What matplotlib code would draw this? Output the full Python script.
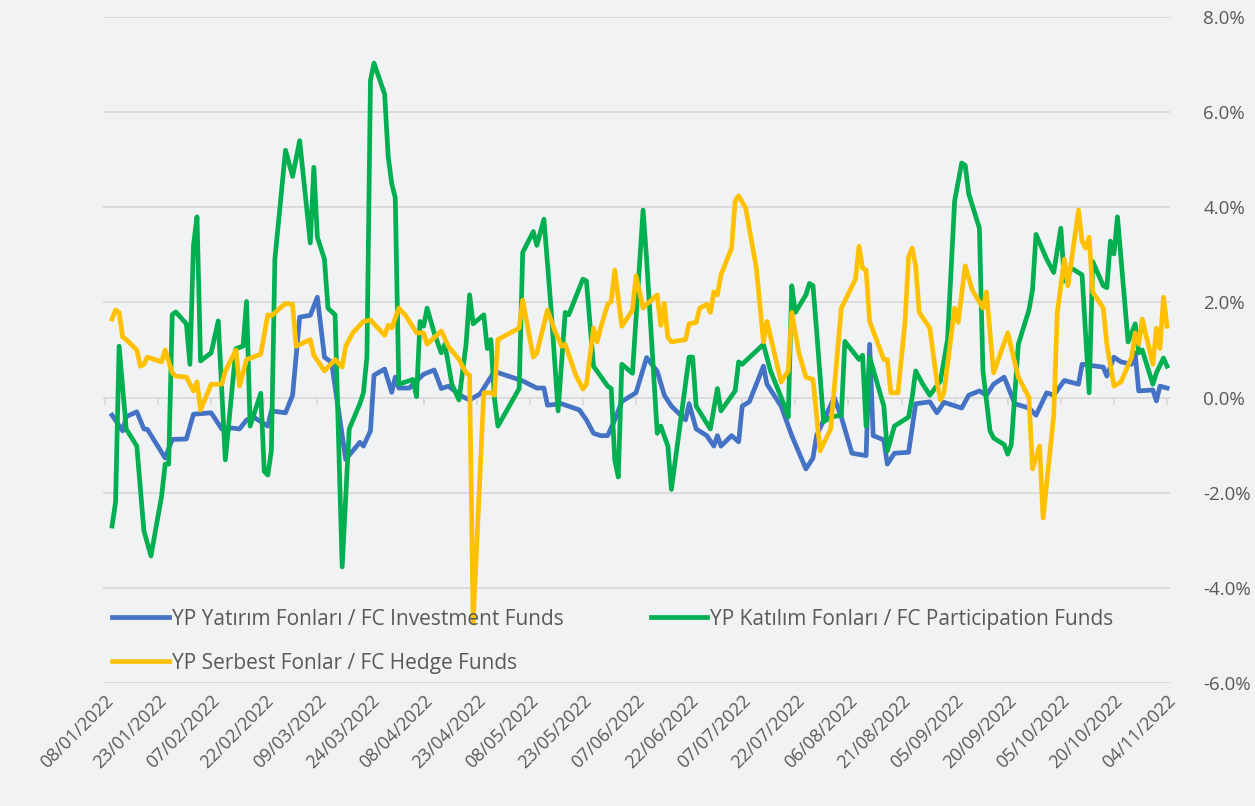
import pandas as pd
import matplotlib.pyplot as plt
import matplotlib.dates as mdates
from matplotlib.ticker import FuncFormatter, NullFormatter

plt.rcParams["font.family"] = ["Open Sans", "DejaVu Sans"]

# -------------------- Veri (günlük getiri, %) --------------------
yatirim_tarih = ["01-10", "01-13", "01-14", "01-17", "01-19", "01-20", "01-25", "01-27", "01-31",
                 "02-02", "02-07", "02-10", "02-13", "02-15", "02-17", "02-19", "02-23", "02-24",
                 "02-28", "03-02", "03-04", "03-07", "03-09", "03-11", "03-13", "03-17", "03-21",
                 "03-22", "03-24", "03-25", "03-28", "03-30", "03-31", "04-01", "04-04", "04-05",
                 "04-08", "04-11", "04-13", "04-15", "04-19", "04-21", "04-24", "04-28", "05-06",
                 "05-10", "05-12", "05-13", "05-17", "05-22", "05-24", "05-26", "05-28", "05-30",
                 "06-01", "06-03", "06-07", "06-10", "06-13", "06-15", "06-17", "06-21", "06-22",
                 "06-24", "06-27", "06-29", "06-30", "07-01", "07-04", "07-06", "07-07", "07-09",
                 "07-13", "07-14", "07-18", "07-21", "07-25", "07-27", "07-28", "08-02", "08-04",
                 "08-07", "08-11", "08-12", "08-13", "08-16", "08-17", "08-19", "08-23", "08-25",
                 "08-29", "08-31", "09-02", "09-07", "09-09", "09-12", "09-14", "09-16", "09-19",
                 "09-22", "09-26", "09-28", "10-01", "10-03", "10-06", "10-10", "10-11", "10-17",
                 "10-18", "10-20", "10-22", "10-25", "10-26", "10-27", "10-31", "11-01", "11-02",
                 "11-04"]
yatirim = [-0.37, -0.70, -0.40, -0.30, -0.66, -0.67, -1.27, -0.88, -0.87,
           -0.35, -0.32, -0.66, -0.64, -0.66, -0.47, -0.41, -0.60, -0.28,
           -0.32, 0.05, 1.69, 1.73, 2.11, 0.85, 0.74, -1.30, -0.94,
           -1.02, -0.70, 0.47, 0.60, 0.11, 0.43, 0.20, 0.20, 0.28,
           0.49, 0.58, 0.19, 0.24, 0.02, -0.05, 0.08, 0.55, 0.35,
           0.20, 0.20, -0.16, -0.13, -0.26, -0.47, -0.75, -0.80, -0.80,
           -0.47, -0.08, 0.10, 0.84, 0.55, 0.05, -0.18, -0.47, -0.13,
           -0.66, -0.80, -1.02, -0.80, -1.02, -0.80, -0.93, -0.18, -0.09,
           0.66, 0.28, -0.18, -0.80, -1.50, -1.27, -0.80, 0.00, -0.41,
           -1.17, -1.22, 1.12, -0.80, -0.89, -1.40, -1.17, -1.15, -0.13,
           -0.09, -0.32, -0.10, -0.22, 0.05, 0.14, 0.05, 0.28, 0.43,
           -0.13, -0.22, -0.37, 0.10, 0.05, 0.36, 0.28, 0.70, 0.64,
           0.45, 0.85, 0.75, 0.70, 0.94, 0.14, 0.16, -0.07, 0.24,
           0.20]

katilim_tarih = ["01-10", "01-11", "01-12", "01-14", "01-17", "01-19", "01-21", "01-24", "01-25",
                 "01-26", "01-27", "01-28", "01-31", "02-01", "02-02", "02-03", "02-04", "02-07",
                 "02-09", "02-11", "02-14", "02-16", "02-17", "02-18", "02-21", "02-22", "02-23",
                 "02-24", "02-25", "02-28", "03-02", "03-04", "03-07", "03-08", "03-09", "03-11",
                 "03-12", "03-14", "03-16", "03-18", "03-21", "03-22", "03-23", "03-24", "03-25",
                 "03-28", "03-29", "03-30", "03-31", "04-01", "04-05", "04-06", "04-07", "04-08",
                 "04-09", "04-11", "04-13", "04-14", "04-16", "04-18", "04-20", "04-21", "04-22",
                 "04-25", "04-26", "04-27", "04-28", "04-29", "05-05", "05-06", "05-09", "05-10",
                 "05-12", "05-14", "05-16", "05-18", "05-19", "05-23", "05-24", "05-26", "05-30",
                 "05-31", "06-01", "06-02", "06-03", "06-06", "06-09", "06-10", "06-13", "06-14",
                 "06-16", "06-17", "06-22", "06-23", "06-24", "06-28", "06-30", "07-01", "07-05",
                 "07-06", "07-07", "07-13", "07-15", "07-19", "07-20", "07-21", "07-22", "07-25",
                 "07-26", "07-27", "07-28", "07-30", "08-01", "08-04", "08-05", "08-09", "08-10",
                 "08-11", "08-12", "08-16", "08-17", "08-19", "08-23", "08-24", "08-25", "08-27",
                 "08-29", "09-01", "09-03", "09-05", "09-07", "09-08", "09-09", "09-12", "09-13",
                 "09-15", "09-16", "09-19", "09-20", "09-21", "09-23", "09-26", "09-27", "09-28",
                 "10-01", "10-03", "10-05", "10-06", "10-08", "10-11", "10-13", "10-14", "10-17",
                 "10-18", "10-19", "10-20", "10-21", "10-24", "10-26", "10-27", "10-28", "10-31",
                 "11-01", "11-03", "11-04"]
katilim = [-2.70, -2.20, 1.08, -0.66, -1.02, -2.80, -3.33, -2.07, -1.40,
           -1.40, 1.74, 1.80, 1.55, 0.70, 3.20, 3.80, 0.77, 0.94,
           1.61, -1.31, 1.03, 1.08, 2.02, -0.60, 0.09, -1.55, -1.63,
           -1.12, 2.91, 5.20, 4.65, 5.40, 3.25, 4.84, 3.37, 2.91,
           1.88, 1.74, -3.56, -0.66, -0.13, 0.10, 0.85, 6.67, 7.03,
           6.38, 5.07, 4.50, 4.20, 0.28, 0.38, 0.02, 1.60, 1.50,
           1.88, 1.36, 0.94, 1.12, 0.28, -0.05, 1.12, 2.16, 1.55,
           1.74, 1.03, 1.22, 0.00, -0.60, 0.19, 3.05, 3.49, 3.20,
           3.75, 1.88, -0.28, 1.79, 1.74, 2.49, 2.45, 0.66, 0.24,
           0.19, -1.31, -1.67, 0.70, 0.51, 3.94, 2.91, -0.75, -0.60,
           -1.02, -1.93, 0.85, 0.85, -0.18, -0.66, 0.19, -0.28, 0.14,
           0.75, 0.70, 1.12, 0.56, -0.18, -0.41, 2.35, 1.79, 2.16,
           2.40, 2.35, 1.42, -0.51, -0.41, -0.37, 1.18, 0.80, 0.89,
           -0.60, 0.85, -0.18, -1.12, -0.60, -0.41, 0.00, 0.56, 0.28,
           0.05, 0.35, 1.22, 4.13, 4.93, 4.88, 4.28, 3.56, 0.56,
           -0.70, -0.85, -0.99, -1.19, -0.99, 1.12, 1.84, 2.26, 3.43,
           2.91, 2.63, 3.56, 2.45, 2.72, 2.58, 0.10, 2.86, 2.35,
           2.31, 3.29, 3.02, 3.80, 1.17, 1.55, 0.94, 1.00, 0.28,
           0.52, 0.83, 0.66]

serbest_tarih = ["01-10", "01-11", "01-12", "01-13", "01-14", "01-17", "01-18", "01-19", "01-20",
                 "01-24", "01-25", "01-27", "01-28", "01-31", "02-02", "02-03", "02-04", "02-07",
                 "02-10", "02-11", "02-14", "02-15", "02-17", "02-21", "02-23", "02-24", "02-28",
                 "03-02", "03-03", "03-07", "03-08", "03-11", "03-14", "03-16", "03-17", "03-19",
                 "03-22", "03-24", "03-28", "03-29", "03-30", "04-01", "04-03", "04-06", "04-08",
                 "04-09", "04-13", "04-15", "04-18", "04-20", "04-21", "04-22", "04-25", "04-27",
                 "04-28", "04-29", "05-05", "05-06", "05-09", "05-10", "05-13", "05-15", "05-17",
                 "05-18", "05-21", "05-23", "05-24", "05-26", "05-27", "05-28", "05-30", "05-31",
                 "06-01", "06-03", "06-06", "06-07", "06-09", "06-10", "06-13", "06-14", "06-15",
                 "06-16", "06-17", "06-21", "06-22", "06-24", "06-25", "06-27", "06-28", "06-29",
                 "06-30", "07-01", "07-04", "07-05", "07-06", "07-08", "07-11", "07-13", "07-14",
                 "07-18", "07-20", "07-21", "07-23", "07-25", "07-27", "07-29", "08-01", "08-04",
                 "08-08", "08-09", "08-10", "08-11", "08-12", "08-16", "08-17", "08-18", "08-20",
                 "08-22", "08-23", "08-24", "08-25", "08-26", "08-29", "08-31", "09-01", "09-02",
                 "09-03", "09-05", "09-06", "09-08", "09-10", "09-13", "09-14", "09-16", "09-20",
                 "09-23", "09-26", "09-27", "09-29", "09-30", "10-03", "10-04", "10-06", "10-07",
                 "10-10", "10-11", "10-12", "10-13", "10-14", "10-17", "10-18", "10-20", "10-22",
                 "10-25", "10-26", "10-27", "10-28", "10-31", "11-01", "11-02", "11-03", "11-04"]
serbest = [1.65, 1.84, 1.79, 1.27, 1.22, 1.00, 0.66, 0.70, 0.85,
           0.75, 1.00, 0.52, 0.45, 0.43, 0.14, 0.33, -0.26, 0.28,
           0.28, 0.56, 1.00, 0.24, 0.80, 0.91, 1.74, 1.72, 1.98,
           1.96, 1.08, 1.22, 0.89, 0.56, 0.80, 0.64, 1.08, 1.36,
           1.60, 1.63, 1.31, 1.52, 1.46, 1.88, 1.72, 1.36, 1.36,
           1.12, 1.40, 1.08, 0.80, 0.52, 0.47, -4.74, 0.10, 0.10,
           0.05, 1.22, 1.46, 2.05, 0.85, 0.94, 1.84, 1.42, 1.08,
           1.12, 0.47, 0.18, 0.28, 1.46, 1.17, 1.46, 1.96, 2.02,
           2.68, 1.50, 1.84, 2.56, 1.88, 1.96, 2.16, 1.52, 1.98,
           1.27, 1.17, 1.22, 1.55, 1.58, 1.88, 1.96, 1.79, 2.22,
           2.16, 2.58, 3.14, 4.13, 4.24, 3.98, 2.72, 1.17, 1.60,
           0.33, 0.56, 1.79, 0.94, 0.43, 0.38, -1.12, -0.66, 1.88,
           2.49, 3.18, 2.72, 2.68, 1.60, 0.80, 0.80, 0.10, 0.10,
           1.60, 2.96, 3.14, 2.77, 1.79, 1.46, 0.33, -0.05, 0.10,
           0.70, 1.88, 1.58, 2.77, 2.26, 1.88, 2.22, 0.52, 1.36,
           0.43, 0.00, -1.50, -1.02, -2.53, -0.37, 1.79, 2.91, 2.35,
           3.94, 3.29, 3.14, 3.37, 2.22, 1.88, 1.12, 0.24, 0.33,
           0.85, 1.36, 1.12, 1.65, 0.70, 1.46, 1.03, 2.11, 1.50]

seriler = [
    ("YP Yatırım Fonları / FC Investment Funds", yatirim_tarih, yatirim, "#4472C4"),
    ("YP Katılım Fonları / FC Participation Funds", katilim_tarih, katilim, "#00B050"),
    ("YP Serbest Fonlar / FC Hedge Funds", serbest_tarih, serbest, "#FFC000"),
]

# -------------------- Gráfica --------------------
fig = plt.figure(figsize=(12.55, 8.06), dpi=100, facecolor="#f1f2f4")
ax = fig.add_axes([0.0821, 0.1526, 0.8502, 0.8263])
ax.set_facecolor("none")

lineas = []
for nombre, tarih, deger, renk in seriler:
    x = pd.to_datetime(["2022-" + t for t in tarih])
    (ln,) = ax.plot(x, deger, color=renk, lw=3.4, label=nombre, solid_joinstyle="round")
    lineas.append(ln)

inicio = pd.Timestamp("2022-01-08")
ax.set_xlim(inicio - pd.Timedelta(hours=13), inicio + pd.Timedelta(days=300.85))
ax.set_ylim(-6, 8)

ticks = pd.date_range("2022-01-08", "2022-11-04", freq="15D")
ax.set_xticks(ticks)
ax.xaxis.set_major_formatter(mdates.DateFormatter("%d/%m/%Y"))
ax.tick_params(axis="x", length=0, labelsize=13, labelcolor="#595959", pad=6)
plt.setp(ax.get_xticklabels(), rotation=45, ha="right", rotation_mode="anchor")

ax.set_yticks(range(-6, 9, 2))
ax.yaxis.tick_right()
ax.yaxis.set_major_formatter(FuncFormatter(lambda v, p: f"{v:.1f}%"))
ax.tick_params(axis="y", length=0, labelsize=13.5, labelcolor="#595959", pad=24)
ax.grid(axis="y", color="#d9d9d9", lw=1.3)
ax.set_axisbelow(True)
for s in ax.spines.values():
    s.set_visible(False)

# marcas del eje en 0%
sec = ax.secondary_xaxis(6 / 14)
sec.set_xticks(ticks)
sec.xaxis.set_ticks_position("bottom")
sec.xaxis.set_major_formatter(NullFormatter())
sec.tick_params(axis="x", length=5, color="#d9d9d9", width=1.3, direction="out")
sec.spines["bottom"].set_visible(False)
sec.spines["top"].set_visible(False)

orden = [0, 2, 1]
ax.legend([lineas[i] for i in orden], [lineas[i].get_label() for i in orden],
          loc="lower left", bbox_to_anchor=(0.0, 0.0), ncol=2, frameon=False,
          fontsize=15, labelcolor="#595959", handlelength=2.7, handletextpad=0.15,
          columnspacing=4.2, labelspacing=1.1, borderaxespad=0.05)

plt.savefig("out.png", dpi=100, facecolor=fig.get_facecolor())
plt.close()
